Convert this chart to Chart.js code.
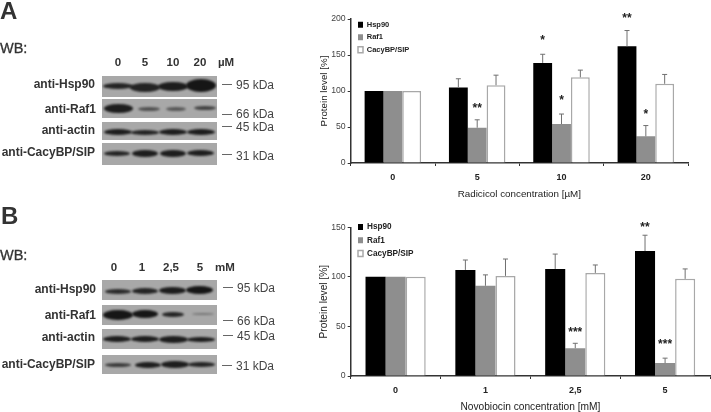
<!DOCTYPE html>
<html><head><meta charset="utf-8">
<script src="https://cdn.jsdelivr.net/npm/chart.js@4/dist/chart.umd.js"></script>
<style>
html,body{margin:0;padding:0;background:#fff;width:711px;height:412px;overflow:hidden;font-family:"Liberation Sans",Arial,sans-serif;color:#333}
canvas.c{position:absolute;filter:blur(.3px)}
#blots{position:absolute;left:0;top:0;width:320px;height:412px;filter:blur(.3px)}
.t{position:absolute;white-space:nowrap;line-height:1}
.b{font-weight:bold;font-size:12px}
.m{font-weight:bold;font-size:11.5px;transform:translateX(-50%)}
.k{font-size:12px;color:#444}
.d{position:absolute;height:1px;background:#666;width:10px}
.p{position:absolute;background:#a8a8a8;overflow:hidden}
.g{position:absolute;background:#161616;border-radius:50%;filter:blur(1px)}
</style></head><body>
<div id="blots"></div>
<canvas class="c" id="chartA" style="left:318px;top:0" width="393" height="200"></canvas>
<canvas class="c" id="chartB" style="left:318px;top:205px" width="393" height="208"></canvas>
<script>
const seriesNames = ['Hsp90', 'Raf1', 'CacyBP/SIP'];
const seriesFill = ['#000000', '#8e8e8e', '#ffffff'];
const seriesEdge = ['#000000', '#8e8e8e', '#a8a8a8'];

const radicicolDoses = ['0', '5', '10', '20'];
const radicicolHsp = [100, 105, 139, 162];
const radicicolRaf = [100, 49, 54, 37];
const radicicolCacy = [100, 108, 119, 110];
const radicicolHspTop = [100, 117, 151, 184];
const radicicolRafTop = [100, 60, 68, 52];
const radicicolCacyTop = [100, 122, 129, 123];
const radicicolHspStars = ['', '', '*', '**'];
const radicicolRafStars = ['', '**', '*', '*'];
const radicicolHspStarAt = [0, 0, 170, 200];
const radicicolRafStarAt = [0, 76, 86, 67];

const novobiocinDoses = ['0', '1', '2,5', '5'];
const novobiocinHsp = [100, 107, 108, 126];
const novobiocinRaf = [100, 91, 28, 13];
const novobiocinCacy = [100, 101, 104, 98];
const novobiocinHspTop = [100, 117, 123, 142];
const novobiocinRafTop = [100, 102, 33, 18];
const novobiocinCacyTop = [100, 118, 112, 108];
const novobiocinHspStars = ['', '', '', '**'];
const novobiocinRafStars = ['', '', '***', '***'];
const novobiocinHspStarAt = [0, 0, 0, 150];
const novobiocinRafStarAt = [0, 0, 44, 32];

const whiskers = {
  id: 'whiskers',
  afterLayout(chart, args, opts) {
    const l = chart.legend;
    const dx = opts.left - l.left, dy = opts.top - l.top;
    l.left += dx; l.right += dx; l.top += dy; l.bottom += dy;
  },
  afterDatasetsDraw(chart) {
    const { ctx, scales: { y } } = chart;
    chart.data.datasets.forEach((ds, i) => {
      chart.getDatasetMeta(i).data.forEach((bar, j) => {
        ctx.save();
        if (ds.tops[j] > ds.data[j]) {
          const py = y.getPixelForValue(ds.tops[j]);
          ctx.strokeStyle = '#707070';
          ctx.lineWidth = 1;
          ctx.beginPath();
          ctx.moveTo(bar.x, bar.y);
          ctx.lineTo(bar.x, py);
          ctx.moveTo(bar.x - 2.5, py);
          ctx.lineTo(bar.x + 2.5, py);
          ctx.stroke();
        }
        if (ds.stars[j]) {
          ctx.fillStyle = '#222';
          ctx.font = 'bold 12px "Liberation Sans"';
          ctx.textAlign = 'center';
          ctx.textBaseline = 'middle';
          ctx.fillText(ds.stars[j], bar.x, y.getPixelForValue(ds.starAt[j]));
        }
        ctx.restore();
      });
    });
  }
};

function makeChart(id, doses, vals, tops, stars, starAt, maxY, step, xTitle, s) {
  return new Chart(document.getElementById(id), {
    type: 'bar',
    plugins: [whiskers],
    data: {
      labels: doses,
      datasets: seriesNames.map((n, i) => ({
        label: n, data: vals[i], tops: tops[i], stars: stars[i], starAt: starAt[i],
        backgroundColor: seriesFill[i], borderColor: seriesEdge[i],
        borderWidth: i === 2 ? 1.5 : 0,
        categoryPercentage: 0.67, barPercentage: 1
      }))
    },
    options: {
      responsive: false, animation: false,
      layout: { padding: { top: s.padTop, right: s.padRight, left: 0, bottom: 0 } },
      plugins: {
        tooltip: { enabled: false },
        whiskers: { left: s.legendLeft, top: s.legendTop },
        legend: {
          position: 'chartArea', align: 'start',
          labels: {
            boxWidth: 5, boxHeight: 6, padding: s.legendGap, color: '#222',
            font: { family: '"Liberation Sans"', size: s.legendSize, weight: 'bold' }
          }
        }
      },
      scales: {
        x: {
          afterFit(a) { a.height = 37; },
          border: { color: '#333', width: 1.5 },
          grid: { drawOnChartArea: false, tickLength: 3, color: '#333', offset: true },
          ticks: { color: '#222', padding: 6.5, font: { family: '"Liberation Sans"', size: 9, weight: 'bold' } },
          title: { display: true, text: xTitle, color: '#222', padding: { top: 4, bottom: 0 },
                   font: { family: '"Liberation Sans"', size: s.xTitleSize, weight: 'normal' } }
        },
        y: {
          min: 0, max: maxY,
          afterFit(a) { a.width = 32.7; },
          border: { color: '#333', width: 1.5 },
          grid: { drawOnChartArea: false, tickLength: 3, color: '#333' },
          ticks: { stepSize: step, color: '#444', padding: 2, font: { family: '"Liberation Sans"', size: 8.7 } },
          title: { display: true, text: 'Protein level [%]', color: '#222', padding: 0,
                   font: { family: '"Liberation Sans"', size: s.xTitleSize, weight: 'normal' } }
        }
      }
    }
  });
}

makeChart('chartA', radicicolDoses,
  [radicicolHsp, radicicolRaf, radicicolCacy],
  [radicicolHspTop, radicicolRafTop, radicicolCacyTop],
  [radicicolHspStars, radicicolRafStars, ['', '', '', '']],
  [radicicolHspStarAt, radicicolRafStarAt, [0, 0, 0, 0]],
  200, 50, 'Radicicol concentration [\u00b5M]',
  { padTop: 19, padRight: 23, legendLeft: 35, legendTop: 16, legendGap: 5, legendSize: 7.5, xTitleSize: 9.8 });
makeChart('chartB', novobiocinDoses,
  [novobiocinHsp, novobiocinRaf, novobiocinCacy],
  [novobiocinHspTop, novobiocinRafTop, novobiocinCacyTop],
  [novobiocinHspStars, novobiocinRafStars, ['', '', '', '']],
  [novobiocinHspStarAt, novobiocinRafStarAt, [0, 0, 0, 0]],
  150, 50, 'Novobiocin concentration [mM]',
  { padTop: 22.3, padRight: 1, legendLeft: 35, legendTop: 13, legendGap: 5, legendSize: 8.2, xTitleSize: 10.2 });

/* ---- western-blot panels (decorative photograph stand-in) ---- */
const host = document.getElementById('blots');
function text(cls, s, css) { const e = document.createElement('div'); e.className = 't ' + cls; e.textContent = s; e.style.cssText += css; host.appendChild(e); return e; }
function panel(top, h, bands) {
  const p = document.createElement('div'); p.className = 'p';
  p.style.cssText = `left:102px;top:${top}px;width:115px;height:${h}px`;
  bands.forEach(b => {
    const g = document.createElement('div'); g.className = 'g';
    g.style.cssText = `left:${b[0]}px;width:${b[1]}px;top:${b[2]}px;height:${b[3]}px;opacity:${b[4]}`;
    p.appendChild(g);
  });
  host.appendChild(p);
}
function rowLabels(ys, right) {
  ['anti-Hsp90', 'anti-Raf1', 'anti-actin', 'anti-CacyBP/SIP'].forEach((s, i) =>
    text('b', s, `left:${right[i]}px;top:${ys[i]}px;transform:translateX(-100%)`));
}
function sizes(marks) {
  marks.forEach(m => {
    text('k', m[0], `left:${m[1]}px;top:${m[2]}px`);
    const d = document.createElement('div'); d.className = 'd';
    d.style.cssText = `left:${m[3]}px;top:${m[4]}px`; host.appendChild(d);
  });
}
text('', 'A', 'left:0;top:-3px;font:bold 24px "Liberation Sans"');
text('', 'B', 'left:1px;top:202px;font:bold 24px "Liberation Sans"');
text('', 'WB:', 'left:0;top:41px;font-size:14.5px;-webkit-text-stroke:.3px #333');
text('', 'WB:', 'left:0;top:248px;font-size:14.5px;-webkit-text-stroke:.3px #333');
[['0',118],['5',145],['10',173],['20',200],['\u00b5M',226]].forEach(l => text('m', l[0], `left:${l[1]}px;top:57px`));
[['0',114],['1',142],['2,5',171],['5',200],['mM',225]].forEach(l => text('m', l[0], `left:${l[1]}px;top:262px`));

panel(76, 21, [[1,30,7,6,.9],[28,30,7,9,.9],[56,30,6,9,.95],[84,30,3,13,1]]);
panel(99, 19, [[2,29,5,9,.95],[36,22,8,4,.6],[64,20,8,4,.55],[92,22,7,4,.7]]);
panel(122, 18, [[2,28,7,6,.95],[29,28,8,5,.9],[57,28,7,6,.95],[85,28,7,6,.95]]);
panel(143, 22, [[2,26,8,5,.9],[30,26,7,7,.95],[58,26,7,7,.95],[85,27,7,6,.95]]);
rowLabels([78, 103, 124, 146], [95, 96, 95, 95]);
sizes([['95 kDa',236,79,222,84],['66 kDa',236,108,222,114],['45 kDa',236,121,222,126],['31 kDa',236,150,222,154]]);

panel(280, 20, [[3,26,9,5,.85],[30,26,8,6,.9],[57,27,7,7,.95],[84,27,6,8,1]]);
panel(305, 20, [[1,30,5,10,1],[30,26,5,8,1],[60,22,7,5,.9],[90,22,8,2,.35]]);
panel(329, 20, [[1,28,7,6,.95],[29,28,7,6,.95],[57,29,7,7,.95],[85,28,8,5,.95]]);
panel(355, 19, [[3,26,8,4,.75],[33,26,7,6,.95],[59,28,6,7,.95],[86,27,7,5,.9]]);
rowLabels([283, 309, 331, 358], [96, 96, 95, 95]);
sizes([['95 kDa',237,282,223,287],['66 kDa',237,315,223,320],['45 kDa',237,330,223,335],['31 kDa',236,360,222,365]]);
</script></body></html>
